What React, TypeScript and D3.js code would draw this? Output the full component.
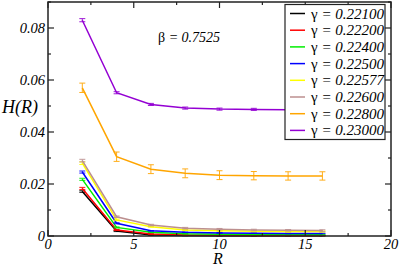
import React from "react";
import * as d3 from "d3";

const R = [2, 4, 6, 8, 10, 12, 14, 16];
const gammas = ["0.22100", "0.22200", "0.22400", "0.22500", "0.22577", "0.22600", "0.22800", "0.23000"];
const colors = ["#000000", "#ff0000", "#00ee00", "#0000ff", "#ffff00", "#bc8f8f", "#ffa500", "#9400d3"];
const H221 = [0.0171, 0.0019, 0.0004, 0.0002, 0.0001, 0.0001, 0.0001, 0.0001];
const H222 = [0.0183, 0.0023, 0.0008, 0.0004, 0.0003, 0.0002, 0.0002, 0.0002];
const H224 = [0.0218, 0.0033, 0.0014, 0.0009, 0.0007, 0.0006, 0.0006, 0.0005];
const H225 = [0.0246, 0.0049, 0.002, 0.0014, 0.0012, 0.0011, 0.001, 0.001];
const H22577 = [0.028, 0.0062, 0.0036, 0.0023, 0.002, 0.0018, 0.0017, 0.0017];
const H226 = [0.029, 0.0074, 0.0042, 0.003, 0.0026, 0.0023, 0.0022, 0.0021];
const H228 = [0.057, 0.0305, 0.0257, 0.0241, 0.0234, 0.0232, 0.0231, 0.0231];
const H230 = [0.083, 0.0551, 0.0506, 0.0492, 0.0488, 0.0487, 0.0486, 0.0486];
const E221 = [0.0003, 0.0002, 0.0001, 0.0001, 0.0001, 0.0001, 0.0001, 0.0001];
const E222 = [0.0004, 0.0002, 0.0001, 0.0001, 0.0001, 0.0001, 0.0001, 0.0001];
const E224 = [0.0004, 0.0002, 0.0001, 0.0001, 0.0001, 0.0001, 0.0001, 0.0001];
const E225 = [0.0004, 0.0002, 0.0001, 0.0001, 0.0001, 0.0001, 0.0001, 0.0001];
const E22577 = [0.0005, 0.0003, 0.0002, 0.0002, 0.0002, 0.0002, 0.0002, 0.0002];
const E226 = [0.0005, 0.0003, 0.0003, 0.0003, 0.0003, 0.0003, 0.0003, 0.0003];
const E228 = [0.0018, 0.0018, 0.0017, 0.0017, 0.0017, 0.0016, 0.0016, 0.0016];
const E230 = [0.0006, 0.0004, 0.0004, 0.0004, 0.0004, 0.0004, 0.0004, 0.0004];
const seriesH = [H221, H222, H224, H225, H22577, H226, H228, H230];
const seriesE = [E221, E222, E224, E225, E22577, E226, E228, E230];
const xTicks = [0, 5, 10, 15, 20];
const yTicks = [0, 0.02, 0.04, 0.06, 0.08];
const yTickLabels = ["0", "0.02", "0.04", "0.06", "0.08"];

export default function App() {
  const W = 399, Hh = 267;
  const left = 48, right = 391, top = 2, bottom = 236;
  const x = d3.scaleLinear().domain([0, 20]).range([left, right]);
  const y = d3.scaleLinear().domain([0, 0.09]).range([bottom, top]);
  const line = d3.line<number>().x((_, i) => x(R[i])).y((d) => y(d));
  const serif = { fontFamily: "Liberation Serif" };
  const ital = { fontFamily: "Liberation Serif", fontStyle: "italic" };
  const xMinor = d3.range(0, 20.01, 2.5);
  const yMinor = d3.range(0, 0.0901, 0.01);
  const axisColor = "#222";
  return (
    <svg width={W} height={Hh} style={{ position: "absolute", left: 0, top: 0 }}>
      <rect x={0} y={0} width={W} height={Hh} fill="#fff" />
      {seriesH.map((s, k) => (
        <g key={k}>
          <path d={line(s) || ""} fill="none" stroke={colors[k]} strokeWidth={1.5} />
          {s.map((v, i) => {
            const e = seriesE[k][i];
            const cx = x(R[i]);
            return (
              <g key={i} stroke={colors[k]} strokeWidth={1} opacity={0.9}>
                <line x1={cx} x2={cx} y1={y(v - e)} y2={y(v + e)} />
                <line x1={cx - 3} x2={cx + 3} y1={y(v - e)} y2={y(v - e)} />
                <line x1={cx - 3} x2={cx + 3} y1={y(v + e)} y2={y(v + e)} />
              </g>
            );
          })}
        </g>
      ))}
      <rect x={left} y={top} width={right - left} height={bottom - top} fill="none" stroke={axisColor} strokeWidth={1.5} />
      {xMinor.map((t, i) => {
        const major = i % 2 === 0;
        const l = major ? 6 : 3;
        return (
          <g key={"xt" + i} stroke={axisColor} strokeWidth={1.2}>
            <line x1={x(t)} x2={x(t)} y1={bottom} y2={bottom - l} />
            <line x1={x(t)} x2={x(t)} y1={top} y2={top + l} />
          </g>
        );
      })}
      {yMinor.map((t, i) => {
        const major = i % 2 === 0;
        const l = major ? 6 : 3;
        return (
          <g key={"yt" + i} stroke={axisColor} strokeWidth={1.2}>
            <line x1={left} x2={left + l} y1={y(t)} y2={y(t)} />
            <line x1={right} x2={right - l} y1={y(t)} y2={y(t)} />
          </g>
        );
      })}
      {xTicks.map((t) => (
        <text key={"xl" + t} x={x(t)} y={249} textAnchor="middle" fontSize={14.5} style={ital} fill="#000">
          {t}
        </text>
      ))}
      {yTicks.map((t, i) => (
        <text key={"yl" + t} x={45} y={y(t) + 5} textAnchor="end" fontSize={14.5} style={ital} fill="#000">
          {yTickLabels[i]}
        </text>
      ))}
      <text x={218} y={263.5} textAnchor="middle" fontSize={16} style={ital}>R</text>
      <text x={2} y={113} fontSize={18} style={ital}>H(R)</text>
      <text x={158} y={42} fontSize={14} style={serif}>
        <tspan>β</tspan>
        <tspan style={ital}> = 0.7525</tspan>
      </text>
      <rect x={285} y={4.5} width={100} height={135} fill="#fff" stroke={axisColor} strokeWidth={1.2} />
      {gammas.map((g, k) => {
        const ly = 13.5 + k * 16.7;
        return (
          <g key={"lg" + k}>
            <line x1={290} x2={305} y1={ly} y2={ly} stroke={colors[k]} strokeWidth={1.5} />
            <text x={311} y={ly + 5} fontSize={15} style={serif}>
              <tspan>γ</tspan>
              <tspan style={ital}>{" = " + g}</tspan>
            </text>
          </g>
        );
      })}
    </svg>
  );
}
